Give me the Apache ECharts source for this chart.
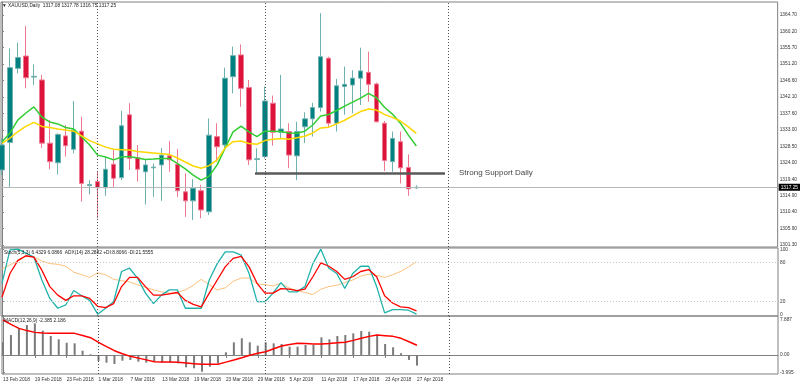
<!DOCTYPE html>
<html><head><meta charset="utf-8">
<script src="https://cdn.jsdelivr.net/npm/echarts@6/dist/echarts.min.js"></script>
<style>html,body{margin:0;padding:0;background:#fff}#c{width:800px;height:385px}</style>
</head><body><div id="c"></div>
<script>
const dates = ['13 Feb 2018','14 Feb 2018','15 Feb 2018','16 Feb 2018','19 Feb 2018','20 Feb 2018','21 Feb 2018','22 Feb 2018','23 Feb 2018','26 Feb 2018','27 Feb 2018','28 Feb 2018',
 '1 Mar 2018','2 Mar 2018','5 Mar 2018','6 Mar 2018','7 Mar 2018','8 Mar 2018','9 Mar 2018','12 Mar 2018','13 Mar 2018','14 Mar 2018','15 Mar 2018','16 Mar 2018','19 Mar 2018','20 Mar 2018','21 Mar 2018','22 Mar 2018','23 Mar 2018','26 Mar 2018','27 Mar 2018','28 Mar 2018','29 Mar 2018',
 '2 Apr 2018','3 Apr 2018','4 Apr 2018','5 Apr 2018','6 Apr 2018','9 Apr 2018','10 Apr 2018','11 Apr 2018','12 Apr 2018','13 Apr 2018','16 Apr 2018','17 Apr 2018','18 Apr 2018','19 Apr 2018','20 Apr 2018','23 Apr 2018','24 Apr 2018','25 Apr 2018','26 Apr 2018','27 Apr 2018'];
const openP  = [1322.0,1329.6,1350.0,1353.4,1347.6,1346.8,1329.4,1324.0,1331.4,1327.7,1332.7,1317.7,1318.8,1317.1,1323.6,1319.9,1337.2,1325.4,1321.5,1322.6,1323.4,1325.9,1323.6,1316.0,1313.5,1316.3,1310.5,1331.2,1328.9,1347.7,1353.7,1344.7,1324.9,1325.7,1340.4,1332.4,1332.6,1325.9,1333.9,1336.1,1339.2,1352.8,1334.9,1345.0,1345.4,1347.3,1348.9,1345.7,1334.9,1324.3,1329.8,1322.7,1317.08];
const highP  = [1330.8,1355.5,1357.1,1361.7,1351.1,1348.2,1335.8,1332.1,1334.4,1341.0,1336.7,1319.2,1321.5,1325.4,1327.5,1338.3,1340.4,1328.9,1325.0,1323.8,1328.1,1330.0,1327.8,1321.1,1319.5,1317.9,1336.2,1334.9,1350.2,1356.0,1356.6,1346.8,1328.0,1345.0,1342.5,1348.2,1334.9,1335.3,1337.9,1340.5,1365.2,1353.2,1347.1,1350.5,1349.5,1355.7,1354.6,1346.1,1335.5,1332.6,1332.6,1326.3,1317.78];
const lowP   = [1320.6,1317.1,1348.6,1344.5,1345.4,1328.1,1322.2,1320.8,1325.7,1326.6,1313.3,1315.3,1308.7,1314.9,1317.1,1319.2,1322.0,1318.8,1312.5,1314.6,1313.5,1321.5,1314.6,1309.1,1308.2,1308.7,1309.6,1324.3,1328.0,1343.1,1339.4,1323.4,1321.1,1325.2,1328.7,1330.7,1322.5,1319.2,1329.4,1331.2,1338.1,1333.9,1332.6,1337.2,1337.6,1339.9,1340.8,1335.1,1321.7,1321.5,1318.3,1314.9,1316.75];
const closeP = [1328.9,1350.2,1353.0,1347.4,1347.8,1329.4,1324.3,1331.8,1328.7,1333.0,1318.3,1318.0,1317.1,1322.2,1319.7,1334.2,1325.2,1322.2,1323.4,1322.8,1326.1,1324.8,1316.3,1313.5,1317.0,1311.0,1331.6,1328.4,1347.3,1353.5,1344.5,1324.8,1325.1,1341.0,1332.4,1333.3,1326.1,1332.6,1336.1,1339.2,1353.2,1334.9,1345.2,1345.6,1347.3,1349.3,1345.6,1335.3,1324.6,1330.7,1322.6,1316.8,1317.25];
const maFast = [1329.7,1332.2,1335.8,1337.7,1339.4,1336.6,1335.2,1334.7,1333.7,1333.3,1331.1,1328.9,1326.1,1325.6,1324.8,1325.6,1325.7,1325.3,1324.9,1325.0,1325.2,1325.2,1323.8,1322.3,1320.6,1319.2,1320.3,1323.4,1328.0,1332.5,1334.1,1332.5,1331.2,1332.7,1332.7,1332.6,1332.2,1332.1,1332.7,1334.4,1336.9,1337.3,1338.4,1339.6,1340.7,1341.8,1343.1,1341.9,1339.3,1337.4,1334.9,1331.6,1328.6];
const maSlow = [1329.3,1330.8,1332.6,1334.0,1335.1,1334.0,1333.7,1333.3,1333.0,1332.7,1331.4,1330.1,1329.2,1328.3,1327.7,1327.6,1327.5,1327.1,1326.9,1326.7,1326.5,1326.3,1325.3,1324.2,1323.1,1322.5,1323.2,1324.8,1328.1,1329.8,1330.0,1329.3,1329.1,1330.1,1330.5,1330.7,1330.5,1330.9,1331.3,1332.2,1333.6,1333.8,1334.7,1335.7,1336.9,1338.1,1338.8,1338.5,1337.3,1336.5,1335.5,1333.9,1332.1];
const stochK = [48,99,100,94,88,53,25,10,15,37,29,22,1,10,20,66,71,56,33,17,30,38,38,10,10,10,53,78,96,96,91,63,20,20,33,49,35,35,43,78,100,71,63,40,63,74,74,43,3,8,8,7,1];
const stochD = [27,63,83,90,88,68,43,30,22,29,29,25,13,11,17,43,57,57,43,30,30,32,34,22,16,12,33,53,73,86,89,73,48,33,33,40,39,37,39,58,79,74,66,54,58,66,69,58,29,18,12,11,6];
const adxLine = [70,76,82,89,88,82,78,77,74,65,61,57,64,61,54,52,50,46,42,38,35,33,34,38,45,54,46,38,41,51,56,56,47,46,44,48,41,37,34,31,39,43,45,49,53,59,62,60,57,61,66,73,81];
const macdHist = [2.86,4.5,6.0,6.76,7.14,5.48,4.28,3.54,2.77,2.63,0.97,0.15,-1.35,-1.73,-2.03,-1.28,-1.13,-1.5,-1.73,-1.5,-1.73,-1.73,-1.88,-2.78,-3.0,-3.76,-2.63,-1.88,0.6,2.86,3.76,2.86,2.1,2.86,2.63,2.48,1.88,1.88,2.25,2.25,3.98,3.54,4.28,4.5,4.88,5.4,5.26,4.28,2.48,1.73,0.4,-1.1,-2.385];
const macdSignal = [7.89,6.9,6.0,5.5,5.1,4.95,4.88,4.88,4.88,4.88,4.4,3.9,2.86,1.9,0.97,0.3,-0.3,-0.7,-1.1,-1.5,-1.55,-1.6,-1.65,-1.8,-1.95,-2.1,-2.1,-2.1,-1.6,-1.13,-0.6,-0.05,0.4,0.75,1.4,2.03,2.35,2.63,2.58,2.5,2.48,2.6,2.75,2.86,3.3,3.76,4.2,4.5,4.35,4.2,3.76,3.0,2.186];
const priceTicks = [1301.30,1305.90,1310.40,1314.90,1319.40,1324.00,1328.50,1333.00,1337.60,1342.10,1346.60,1351.20,1355.70,1360.20,1364.70];
const stochTicks = [0,20,80,100];
const macdTicks = [-3.995,0,7.887];
const dateTickIdx = [0,4,8,12,16,20,24,28,32,36,40,44,48,52];
const monthSeparators = [12,33,56];
const lastPrice = 1317.25;
const supportLevel = 1321.2;
const supportFrom = 31.75;
const supportTo = 55.6;
const supportText = 'Strong Support Daily';
const titleMain = '\u25BC XAUUSD,Daily  1317.08 1317.78 1316.75 1317.25';
const titleStoch = 'Stoch(5,3,3) 6.4329 6.0866  ADX(14) 28.2882 +DI:8.8066 -DI:21.5555';
const titleMacd = 'MACD(12,26,9) -2.385 2.186';

const FF = 'Liberation Sans, Arial, sans-serif';
const FS = 4.8;
const idx = dates.map((d,i)=>i);
const candleData = idx.map(i=>[i, openP[i], closeP[i], lowP[i], highP[i]]);
const pairs = arr => arr.map((v,i)=>[i,v]);
const sepLines = monthSeparators.map(x=>({xAxis:x, lineStyle:{color:'#505050', type:[1,2], width:1}}));

const xBase = {type:'value', min:-0.125, max:97.35, splitLine:{show:false}};
const yBase = (gi, min, max, ticks, fmt) => ({
  type:'value', gridIndex:gi, position:'right', min:min, max:max, scale:true,
  splitLine:{show:false},
  axisLine:{show:true, lineStyle:{color:'#808080'}},
  axisTick:{show:true, customValues:ticks, length:2, lineStyle:{color:'#808080'}},
  axisLabel:{show:true, customValues:ticks, formatter:fmt, fontSize:FS, color:'#333', margin:2, fontFamily:FF, hideOverlap:false}
});

const chart = echarts.init(document.getElementById('c'), null, {renderer:'canvas'});
chart.setOption({
  animation:false,
  backgroundColor:'#fff',
  title:[
    {text:titleMain, left:2, top:3, padding:0, textStyle:{fontSize:FS, fontWeight:'normal', color:'#222', fontFamily:FF}},
    {text:titleStoch, left:4, top:250.5, padding:0, textStyle:{fontSize:FS, fontWeight:'normal', color:'#222', fontFamily:FF}},
    {text:titleMacd, left:4, top:317.8, padding:0, textStyle:{fontSize:FS, fontWeight:'normal', color:'#222', fontFamily:FF}}
  ],
  grid:[
    {left:1, right:22, top:2, height:245, show:true, borderColor:'#808080', borderWidth:1},
    {left:1, right:22, top:248, height:68, show:true, borderColor:'#808080', borderWidth:1},
    {left:1, right:22, top:316, height:58, show:true, borderColor:'#808080', borderWidth:1}
  ],
  xAxis:[
    Object.assign({gridIndex:0, show:false}, xBase),
    Object.assign({gridIndex:1, show:false}, xBase),
    Object.assign({gridIndex:2,
      axisLine:{show:true, lineStyle:{color:'#808080'}},
      axisTick:{show:true, customValues:dateTickIdx, length:3, lineStyle:{color:'#808080'}},
      axisLabel:{show:true, customValues:dateTickIdx, formatter:v=>dates[Math.round(v)], align:'left', fontSize:FS, color:'#333', margin:3, fontFamily:FF, hideOverlap:false}
    }, xBase)
  ],
  yAxis:[
    yBase(0, 1300.79, 1368.28, priceTicks, v=>v.toFixed(2)),
    yBase(1, -1.8, 101.8, stochTicks, v=>String(v)),
    yBase(2, -4.28, 8.79, macdTicks, v=>(v===0?'0.00':String(v)))
  ],
  series:[
    {type:'candlestick', xAxisIndex:0, yAxisIndex:0, data:candleData, barWidth:5,
      dimensions:['idx','open','close','lowest','highest'],
      encode:{x:'idx', y:['open','close','lowest','highest']},
      itemStyle:{color:'#008080', color0:'#DC143C', borderColor:'#6fb1ae', borderColor0:'#ef7891', borderWidth:1},
      markLine:{silent:true, symbol:['none','none'], label:{show:false},
        data:[
          {yAxis:lastPrice, lineStyle:{color:'#b8b8b8', width:1, type:'solid'},
            label:{show:true, position:'end', formatter:lastPrice.toFixed(2), backgroundColor:'#000', color:'#fff', fontSize:FS, padding:[1,2,1,2], distance:1, fontFamily:FF}},
          [{coord:[supportFrom, supportLevel], lineStyle:{color:'#5a5a5a', width:2.5, type:'solid'},
             label:{show:true, position:'end', formatter:supportText, fontSize:8, color:'#444', distance:14, fontFamily:FF}},
           {coord:[supportTo, supportLevel]}]
        ].concat(sepLines)
      }
    },
    {type:'line', xAxisIndex:0, yAxisIndex:0, data:pairs(maFast), showSymbol:false, lineStyle:{color:'#32CD32', width:1.5}},
    {type:'line', xAxisIndex:0, yAxisIndex:0, data:pairs(maSlow), showSymbol:false, lineStyle:{color:'#FFD700', width:1.5}},
    {type:'line', xAxisIndex:1, yAxisIndex:1, data:pairs(adxLine), showSymbol:false, lineStyle:{color:'#F9B15A', width:0.8},
      markLine:{silent:true, symbol:['none','none'], label:{show:false},
        data:[{yAxis:20, lineStyle:{color:'#c8c8c8', type:[1,2], width:1}},{yAxis:80, lineStyle:{color:'#c8c8c8', type:[1,2], width:1}}].concat(sepLines)}},
    {type:'line', xAxisIndex:1, yAxisIndex:1, data:pairs(stochK), showSymbol:false, lineStyle:{color:'#20B2AA', width:1.3}},
    {type:'line', xAxisIndex:1, yAxisIndex:1, data:pairs(stochD), showSymbol:false, lineStyle:{color:'#FF0000', width:1.3}},
    {type:'bar', xAxisIndex:2, yAxisIndex:2, data:pairs(macdHist), barWidth:2, itemStyle:{color:'#7a7a7a'},
      markLine:{silent:true, symbol:['none','none'], label:{show:false}, data:sepLines}},
    {type:'line', xAxisIndex:2, yAxisIndex:2, data:pairs(macdSignal), showSymbol:false, lineStyle:{color:'#FF0000', width:1.5}}
  ]
});
</script></body></html>
